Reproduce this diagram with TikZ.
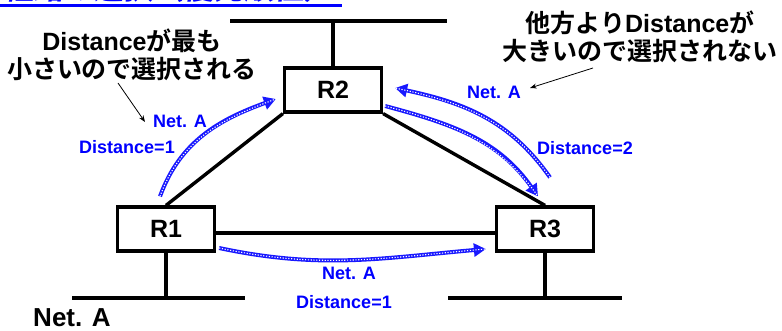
\documentclass[tikz,border=0pt]{standalone}
\usepackage{fontspec}
\setmainfont{Liberation Sans Bold}
\newfontfamily\cjk{Noto Sans CJK JP Bold}
\newfontfamily\cjktitle{Noto Sans CJK JP Bold}[FakeSlant=0.25]
\usetikzlibrary{arrows.meta}

\begin{document}
\begin{tikzpicture}[>=Stealth,x=1pt,y=1pt,
    router/.style={draw,line width=3.2pt,minimum width=97pt,minimum height=44pt,
      inner sep=0pt,font=\fontsize{25}{27}\selectfont},
    wire/.style={line width=3.4pt},
    route/.style={draw=blue!90!white,line width=4pt,
      -{Triangle[length=12pt,width=13pt]},
      postaction={draw=white,line width=1.1pt,dash pattern=on 1.2pt off 1.6pt,-}},
    info/.style={text=blue,font=\fontsize{18}{20}\selectfont},
    note/.style={align=center,font=\fontsize{25}{28}\selectfont}]
  \useasboundingbox (0,0) rectangle (782,-331);
  \clip (0,0) rectangle (782,-331);

  \node[anchor=base west,text=blue,inner sep=0pt,font=\fontsize{30}{32}\cjktitle]
    (title) at (4,0.5) {経路の選択（優先順位）};
  \draw[blue,line width=2.4pt] (0,-5.5) -- (342,-5.5);

  \node[router] (r2) at (333,-90) {R2};
  \node[router] (r1) at (166,-229) {R1};
  \node[router] (r3) at (545,-229) {R3};

  \coordinate (bar2l) at (230,-21);
  \coordinate (bar2r) at (447,-21);
  \coordinate (bar1l) at (72,-298);
  \coordinate (bar1r) at (245,-298);
  \coordinate (bar3l) at (448,-298);
  \coordinate (bar3r) at (622,-298);

  \draw[wire] (bar2l) -- (bar2r);
  \draw[wire] (bar1l) -- (bar1r);
  \draw[wire] (bar3l) -- (bar3r);
  \draw[wire] (r2.north) -- (r2.north |- bar2l);
  \draw[wire] (r1.south) -- (r1.south |- bar1l);
  \draw[wire] (r3.south) -- (r3.south |- bar3l);
  \draw[wire] (r1.north) -- (r2.south west);
  \draw[wire] (r2.south east) -- (r3.north);
  \draw[wire] ([yshift=-4pt]r1.east) -- ([yshift=-4pt]r3.west);

  \draw[route] ([xshift=-6pt,yshift=9pt]r1.north) to[out=70,in=200]
    ([xshift=-7pt,yshift=-9pt]r2.west);
  \draw[route] ([xshift=5pt,yshift=28pt]r3.north) to[out=125,in=-12]
    ([xshift=12pt,yshift=2pt]r2.east);
  \draw[route] ([xshift=2pt,yshift=-16pt]r2.east) to[out=-15,in=125]
    ([xshift=-7pt,yshift=9pt]r3.north);
  \draw[route] ([xshift=3pt,yshift=-19pt]r1.east) to[out=-12,in=185]
    ([xshift=-9pt,yshift=-20pt]r3.west);

  \node[info] (net12) at (180,-121) {Net. A};
  \node[info] (dist12) at (127,-147) {Distance=1};
  \node[info] (net32) at (494,-92) {Net. A};
  \node[info] (dist32) at (585,-148) {Distance=2};
  \node[info] (net13) at (349,-273) {Net. A};
  \node[info] (dist13) at (344,-302) {Distance=1};
  \node[font=\fontsize{26}{28}\selectfont] (neta) at (72,-318) {Net. A};

  \node[note] (best) at (132,-55)
    {Distance{\cjk が最も}\\{\cjk 小さいので選択される}};
  \node[note] (worse) at (640,-37)
    {{\cjk 他方より}Distance{\cjk が}\\{\cjk 大きいので選択されない}};
  \coordinate (best-tip) at (145,-122);
  \coordinate (worse-tip) at (530,-88);
  \draw[->,thick] (118,-83) -- (best-tip);
  \draw[->,thick] (593,-68) -- (worse-tip);
\end{tikzpicture}
\end{document}
